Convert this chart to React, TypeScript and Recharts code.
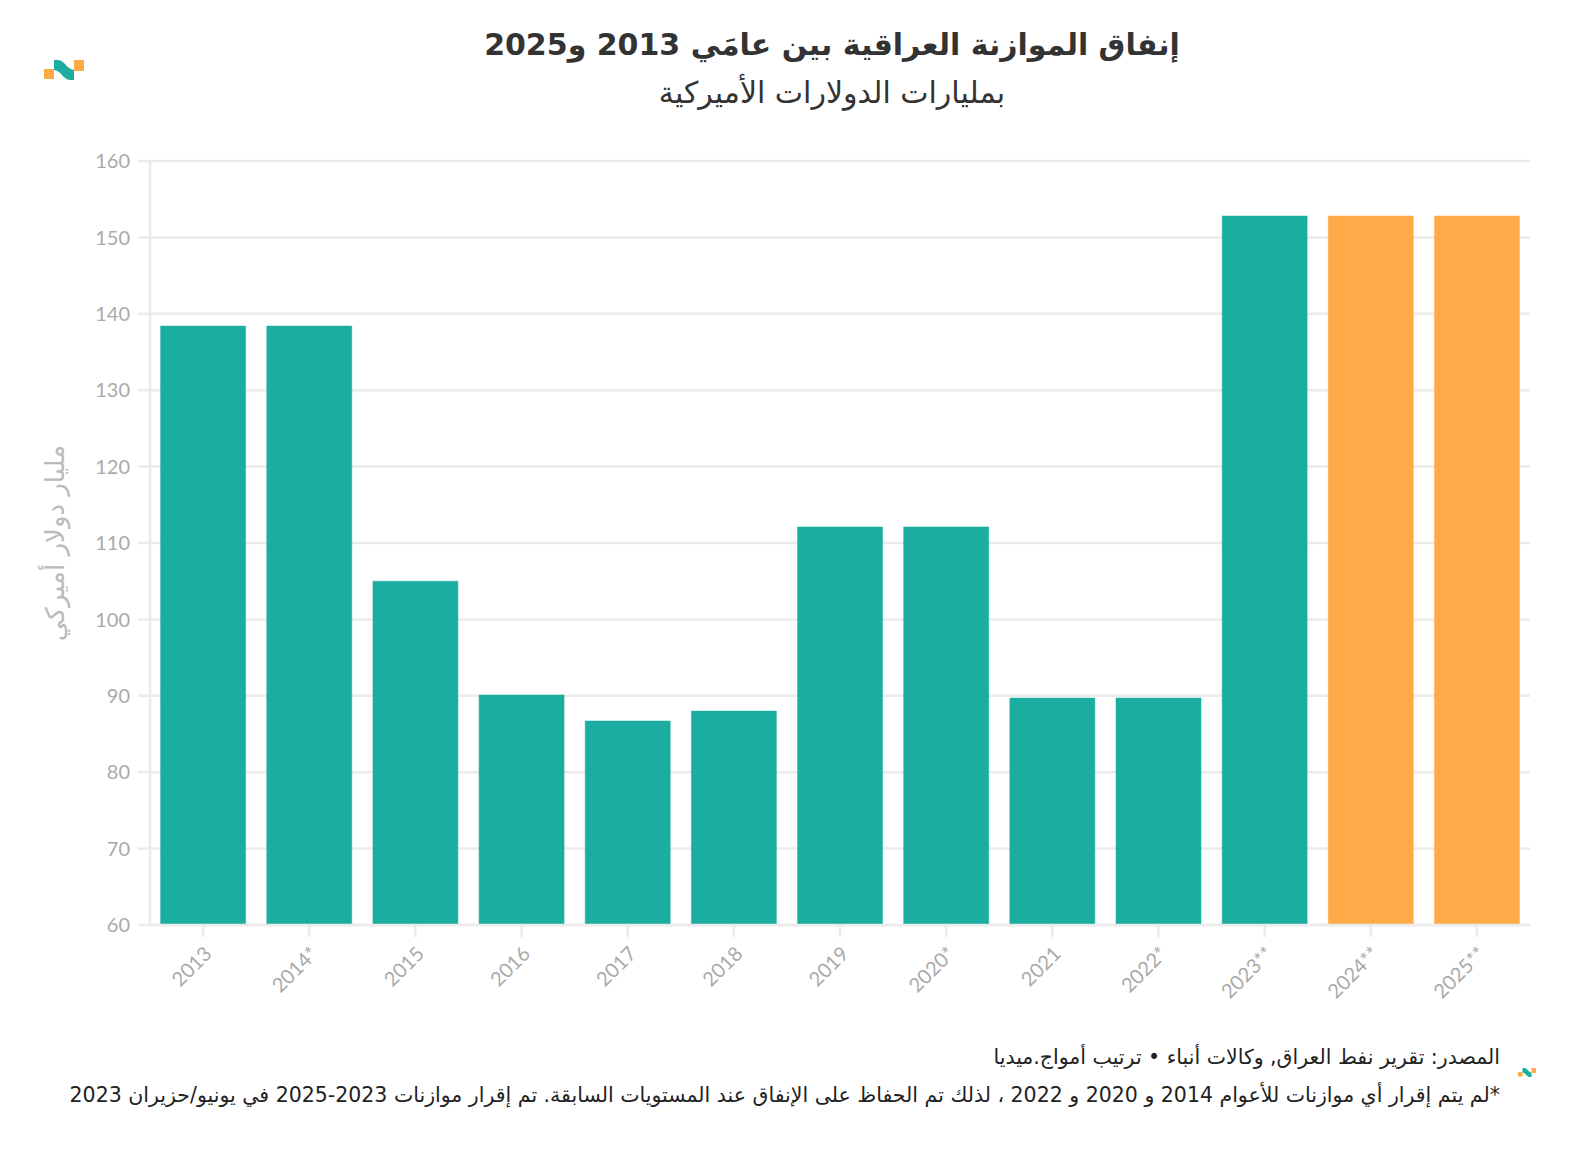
import React from "react";
import { BarChart, Bar, XAxis, YAxis, CartesianGrid, Cell, Label } from "recharts";

const years = ["2013", "2014*", "2015", "2016", "2017", "2018", "2019", "2020*", "2021", "2022*", "2023**", "2024**", "2025**"];
const spending = [138.4, 138.4, 105, 90.1, 86.7, 88, 112.1, 112.1, 89.7, 89.7, 152.8, 152.8, 152.8];
const plannedYears = ["2024**", "2025**"];
const yTicks = [60, 70, 80, 90, 100, 110, 120, 130, 140, 150, 160];

const title = "إنفاق الموازنة العراقية بين عامَي 2013 و2025";
const subtitle = "بمليارات الدولارات الأميركية";
const yLabel = "مليار دولار أميركي";
const source = "المصدر: تقرير نفط العراق, وكالات أنباء • ترتيب أمواج.ميديا";
const note = "*لم يتم إقرار أي موازنات للأعوام 2014 و 2020 و 2022 ، لذلك تم الحفاظ على الإنفاق عند المستويات السابقة. تم إقرار موازنات 2023-2025 في يونيو/حزيران 2023";

const TEAL = "#1baea0";
const ORANGE = "#ffaa48";
const GRID = "#ebebeb";
const TICK = "#aaaaaa";
const arabicFont = "'DejaVu Sans', sans-serif";
const numFont = "Lato, 'Noto Sans', sans-serif";

const data = years.map((year, i) => ({ year, value: spending[i] }));

if (typeof document !== "undefined") {
  document.documentElement.style.overflow = "hidden";
  document.body.style.margin = "0";
  document.body.style.overflow = "hidden";
}

function Logo({ x, y, s }: { x: number; y: number; s: number }) {
  return (
    <svg
      style={{ position: "absolute", left: x, top: y }}
      width={40 * s}
      height={20 * s}
      viewBox="0 0 40 20"
    >
      <rect x={0} y={9} width={10} height={10} fill={ORANGE} />
      <path d="M10,0 L14,0 C21,0 22,9 30,10 L30,20 L26,20 C19,20 18,11 10,10 Z" fill={TEAL} />
      <rect x={30} y={0} width={10} height={11} fill={ORANGE} />
    </svg>
  );
}

function YearTick(props: any) {
  const { x, y, payload } = props;
  const ax = x + 10;
  const ay = y + 16;
  return (
    <text
      x={ax}
      y={ay}
      transform={`rotate(-45, ${ax}, ${ay})`}
      textAnchor="end"
      fill={TICK}
      fontSize={20}
      fontFamily={numFont}
    >
      {payload.value}
    </text>
  );
}

export default function App() {
  return (
    <div style={{ position: "absolute", left: 0, top: 0, width: 1592, height: 1150, background: "#fff", overflow: "hidden" }}>
      <Logo x={44} y={60} s={1} />
      <div
        dir="rtl"
        style={{
          position: "absolute",
          left: 232,
          width: 1200,
          top: 21,
          textAlign: "center",
          fontFamily: arabicFont,
          color: "#333",
        }}
      >
        <div style={{ fontSize: 30, fontWeight: "bold", lineHeight: "48px" }}>{title}</div>
        <div style={{ fontSize: 30, lineHeight: "48px" }}>{subtitle}</div>
      </div>

      <BarChart
        width={1592}
        height={1150}
        data={data}
        margin={{ top: 161, right: 62, bottom: 145, left: 0 }}
        barCategoryGap="10%"
      >
        <CartesianGrid vertical={false} stroke={GRID} strokeWidth={2.5} />
        <XAxis
          dataKey="year"
          height={80}
          interval={0}
          axisLine={{ stroke: GRID, strokeWidth: 2.5 }}
          tickLine={{ stroke: GRID, strokeWidth: 2.5 }}
          tickSize={12}
          tick={<YearTick />}
        />
        <YAxis
          width={150}
          domain={[60, 160]}
          ticks={yTicks}
          interval={0}
          axisLine={{ stroke: GRID, strokeWidth: 2.5 }}
          tickLine={{ stroke: GRID, strokeWidth: 2.5 }}
          tickSize={12}
          tickMargin={8}
          tick={{ fill: TICK, fontSize: 20, fontFamily: numFont }}
        >
          <Label
            content={({ viewBox }: any) => {
              const cx = viewBox.x + 55;
              const cy = viewBox.y + viewBox.height / 2;
              return (
                <text
                  x={cx}
                  y={cy}
                  transform={`rotate(-90, ${cx}, ${cy})`}
                  textAnchor="middle"
                  dominantBaseline="central"
                  fill="#bbbbbb"
                  fontSize={26}
                  fontFamily={arabicFont}
                >
                  {yLabel}
                </text>
              );
            }}
          />
        </YAxis>
        <Bar dataKey="value" isAnimationActive={false} strokeWidth={1}>
          {data.map((d) => {
            const c = plannedYears.includes(d.year) ? ORANGE : TEAL;
            return <Cell key={d.year} fill={c} stroke={c} strokeOpacity={0.5} />;
          })}
        </Bar>
      </BarChart>

      <div
        dir="rtl"
        style={{
          position: "absolute",
          right: 92,
          top: 1038,
          width: 1500,
          textAlign: "right",
          fontFamily: arabicFont,
          fontSize: 20.5,
          lineHeight: "38px",
          color: "#222",
          whiteSpace: "nowrap",
        }}
      >
        <div>{source}</div>
        <div>{note}</div>
      </div>
      <Logo x={1518} y={1068} s={0.45} />
    </div>
  );
}
